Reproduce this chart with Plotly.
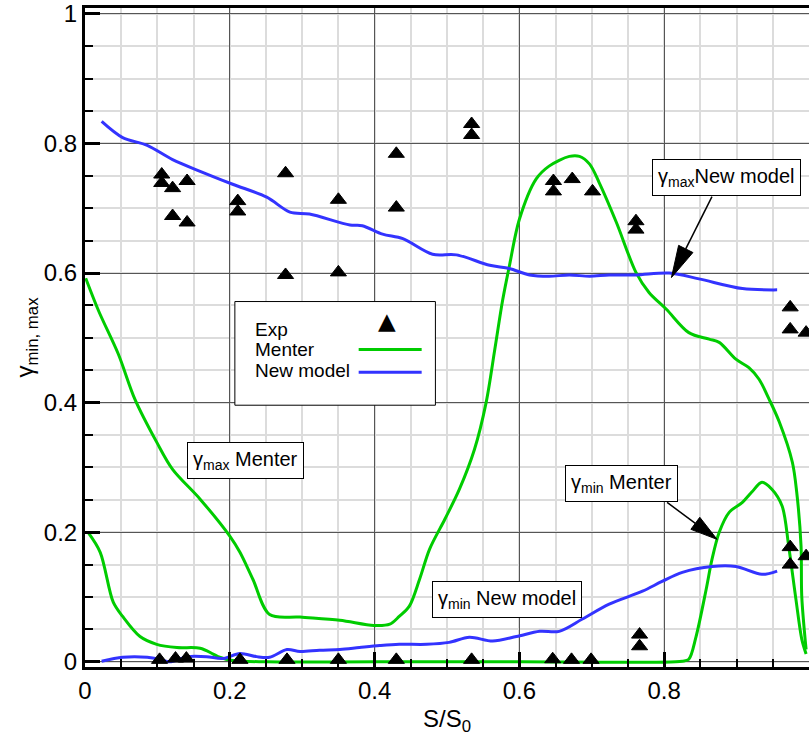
import math
import plotly.graph_objects as go

# ---------------- data ----------------
new_max_x = [0.023, 0.052, 0.086, 0.121, 0.159, 0.204, 0.251, 0.283, 0.310, 0.366, 0.383, 0.411,
             0.439, 0.480, 0.513, 0.559, 0.586, 0.614, 0.641, 0.669, 0.697, 0.724, 0.761, 0.807,
             0.848, 0.908, 0.956]
new_max_y = [0.834, 0.809, 0.797, 0.775, 0.757, 0.737, 0.717, 0.694, 0.691, 0.674, 0.673, 0.660,
             0.653, 0.629, 0.628, 0.612, 0.607, 0.597, 0.595, 0.597, 0.595, 0.597, 0.597, 0.600,
             0.591, 0.576, 0.574]

new_min_x = [0.023, 0.052, 0.086, 0.103, 0.117, 0.141, 0.168, 0.190, 0.214, 0.237, 0.255, 0.279,
             0.297, 0.324, 0.352, 0.379, 0.407, 0.434, 0.472, 0.503, 0.531, 0.563, 0.596, 0.628,
             0.655, 0.687, 0.724, 0.770, 0.797, 0.825, 0.866, 0.899, 0.935, 0.956]
new_min_y = [0.001, 0.007, 0.007, 0.004, 0.000, 0.008, 0.008, 0.005, 0.013, 0.008, 0.007, 0.019,
             0.016, 0.018, 0.019, 0.022, 0.025, 0.027, 0.027, 0.030, 0.038, 0.032, 0.039, 0.047,
             0.047, 0.066, 0.089, 0.109, 0.124, 0.138, 0.147, 0.147, 0.135, 0.140]

menter_max_x = [0.001, 0.019, 0.046, 0.069, 0.099, 0.121, 0.159, 0.200, 0.214, 0.232, 0.255, 0.297,
                0.352, 0.399, 0.421, 0.434, 0.448, 0.462, 0.476, 0.497, 0.517, 0.538, 0.554, 0.566,
                0.577, 0.586, 0.600, 0.623, 0.641, 0.669, 0.683, 0.697, 0.710, 0.734, 0.761, 0.779,
                0.803, 0.834, 0.862, 0.876, 0.899, 0.917, 0.931, 0.945, 0.959, 0.977, 0.983, 0.989,
                0.990, 0.996]
menter_max_y = [0.592, 0.541, 0.475, 0.405, 0.339, 0.297, 0.251, 0.194, 0.169, 0.127, 0.073, 0.069,
                0.064, 0.056, 0.058, 0.070, 0.086, 0.127, 0.174, 0.220, 0.266, 0.328, 0.400, 0.482,
                0.559, 0.610, 0.683, 0.745, 0.765, 0.780, 0.780, 0.768, 0.740, 0.678, 0.601, 0.570,
                0.544, 0.508, 0.498, 0.493, 0.467, 0.454, 0.436, 0.405, 0.370, 0.308, 0.262, 0.179,
                0.101, 0.019]

menter_min_x = [0.004, 0.021, 0.039, 0.052, 0.076, 0.099, 0.127, 0.159, 0.177, 0.186, 0.204, 0.251,
                0.400, 0.600, 0.825, 0.834, 0.844, 0.858, 0.866, 0.876, 0.890, 0.908, 0.921, 0.935,
                0.949, 0.963, 0.972, 0.982, 0.990, 0.996]
menter_min_y = [0.200, 0.169, 0.092, 0.070, 0.039, 0.027, 0.022, 0.021, 0.012, 0.007, 0.002, 0.000,
                0.000, 0.000, 0.001, 0.004, 0.039, 0.112, 0.158, 0.200, 0.231, 0.246, 0.262, 0.277,
                0.266, 0.240, 0.178, 0.096, 0.035, 0.012]

exp_x = [0.106, 0.106, 0.121, 0.141, 0.121, 0.141, 0.211, 0.211, 0.277, 0.277, 0.350, 0.350,
         0.430, 0.430, 0.534, 0.534, 0.647, 0.647, 0.673, 0.701, 0.761, 0.761, 0.974, 0.974,
         0.996, 0.974, 0.974, 0.996, 0.766, 0.766,
         0.103, 0.125, 0.140, 0.214, 0.279, 0.350, 0.430, 0.534, 0.646, 0.672, 0.699]
exp_y = [0.752, 0.739, 0.731, 0.742, 0.688, 0.678, 0.711, 0.695, 0.754, 0.597, 0.713, 0.601,
         0.784, 0.701, 0.830, 0.813, 0.742, 0.726, 0.745, 0.726, 0.680, 0.667, 0.547, 0.513,
         0.508, 0.177, 0.150, 0.163, 0.042, 0.024,
         0.003, 0.005, 0.005, 0.003, 0.003, 0.003, 0.003, 0.003, 0.004, 0.003, 0.003]

x_ticks = [0, 0.2, 0.4, 0.6, 0.8, 1]
y_ticks = [0, 0.2, 0.4, 0.6, 0.8, 1]

GREEN = "rgb(0,204,0)"
BLUE = "rgb(51,51,255)"
FONT = "Liberation Sans, Arial, sans-serif"

W, H = 809, 736
ML, MR, MT, MB = 85, 0, 8, 69
X_RANGE = [0, 1]
Y_RANGE = [-0.008, 1.009]
PX_X = (W - ML - MR) / (X_RANGE[1] - X_RANGE[0])
PX_Y = (H - MT - MB) / (Y_RANGE[1] - Y_RANGE[0])

fig = go.Figure()
line_kw = dict(shape="spline", smoothing=0.9, width=3)
fig.add_trace(go.Scatter(x=menter_max_x, y=menter_max_y, mode="lines",
                         line=dict(color=GREEN, **line_kw), showlegend=False))
fig.add_trace(go.Scatter(x=menter_min_x, y=menter_min_y, mode="lines",
                         line=dict(color=GREEN, **line_kw), showlegend=False))
fig.add_trace(go.Scatter(x=new_max_x, y=new_max_y, mode="lines",
                         line=dict(color=BLUE, **line_kw), showlegend=False))
fig.add_trace(go.Scatter(x=new_min_x, y=new_min_y, mode="lines",
                         line=dict(color=BLUE, **line_kw), showlegend=False))
fig.add_trace(go.Scatter(x=exp_x, y=exp_y, mode="markers",
                         marker=dict(symbol="triangle-up", size=14, color="black",
                                     line=dict(color="black", width=1)),
                         showlegend=False))

axis_common = dict(
    showline=True, linecolor="black", linewidth=3, mirror=True,
    ticks="inside", ticklen=15, tickwidth=3, tickcolor="black",
    showgrid=True, gridcolor="#555555", gridwidth=1, zeroline=False,
    tickfont=dict(family=FONT, size=24, color="black"),
    automargin=False,
)
fig.update_xaxes(range=X_RANGE, tickvals=x_ticks,
                 minor=dict(dtick=0.05, ticks="inside", ticklen=8, tickwidth=1.5,
                            tickcolor="black", showgrid=True, gridcolor="#dcdcdc", gridwidth=1.5),
                 title=dict(text="S/S<sub>0</sub>", font=dict(family=FONT, size=24, color="black"),
                            standoff=8),
                 **axis_common)
fig.update_yaxes(range=Y_RANGE, tickvals=y_ticks,
                 minor=dict(dtick=0.05, ticks="inside", ticklen=8, tickwidth=1.5,
                            tickcolor="black", showgrid=True, gridcolor="#dcdcdc", gridwidth=1.5),
                 title=dict(text="γ<sub>min, max</sub>", font=dict(family=FONT, size=24, color="black"),
                            standoff=4),
                 **axis_common)

# ---------------- legend (manual) ----------------
fig.add_shape(type="rect", xref="x", yref="y", x0=0.207, x1=0.484, y0=0.396, y1=0.556,
              line=dict(color="black", width=1), fillcolor="white", layer="above")
fig.add_shape(type="line", xref="x", yref="y", x0=0.378, x1=0.465, y0=0.482, y1=0.482,
              line=dict(color=GREEN, width=3), layer="above")
fig.add_shape(type="line", xref="x", yref="y", x0=0.378, x1=0.465, y0=0.447, y1=0.447,
              line=dict(color=BLUE, width=3), layer="above")
legend_items = [("Exp", 0.513), ("Menter", 0.482), ("New model", 0.450)]
for txt, yy in legend_items:
    fig.add_annotation(x=0.232, y=yy, xref="x", yref="y", text=txt, showarrow=False,
                       xanchor="left", yanchor="middle",
                       font=dict(family=FONT, size=19, color="black"))
fig.add_annotation(x=0.417, y=0.526, xref="x", yref="y", text="▲", showarrow=False,
                   font=dict(family="DejaVu Sans", size=23, color="black"))

# ---------------- labels ----------------
box = dict(showarrow=False, bordercolor="black", borderwidth=1, borderpad=5, bgcolor="white",
           font=dict(family=FONT, size=20, color="black"), xref="x", yref="y")
fig.add_annotation(x=0.221, y=0.310, text="γ<sub>max</sub> Menter", **box)
fig.add_annotation(x=0.886, y=0.748, text="γ<sub>max</sub>New model", **box)
fig.add_annotation(x=0.741, y=0.275, text="γ<sub>min</sub> Menter", **box)
fig.add_annotation(x=0.583, y=0.0965, text="γ<sub>min</sub> New model", **box)


# arrows drawn as shapes (line + filled head)
def add_arrow(tail, tip, head_len=28, head_w=15):
    tu, tv = tail[0] * PX_X, tail[1] * PX_Y
    pu, pv = tip[0] * PX_X, tip[1] * PX_Y
    du, dv = pu - tu, pv - tv
    L = math.hypot(du, dv)
    ux, uy = du / L, dv / L
    bu, bv = pu - ux * head_len, pv - uy * head_len
    nx, ny = -uy, ux
    pts = [(pu, pv), (bu + nx * head_w / 2, bv + ny * head_w / 2),
           (bu - nx * head_w / 2, bv - ny * head_w / 2)]
    pts = [(a / PX_X, b / PX_Y) for a, b in pts]
    fig.add_shape(type="line", xref="x", yref="y", x0=tail[0], y0=tail[1],
                  x1=bu / PX_X, y1=bv / PX_Y, line=dict(color="black", width=1.5), layer="above")
    path = "M {} {} L {} {} L {} {} Z".format(pts[0][0], pts[0][1], pts[1][0], pts[1][1],
                                             pts[2][0], pts[2][1])
    fig.add_shape(type="path", xref="x", yref="y", path=path, fillcolor="black",
                  line=dict(color="black", width=1), layer="above")


add_arrow((0.866, 0.718), (0.810, 0.593), head_len=32, head_w=16)
add_arrow((0.804, 0.246), (0.873, 0.189), head_len=27, head_w=15)

fig.update_layout(
    width=W, height=H,
    margin=dict(l=ML, r=MR, t=MT, b=MB),
    paper_bgcolor="white", plot_bgcolor="white",
    showlegend=False,
    font=dict(family=FONT, color="black"),
)

fig.write_html("out.html")
